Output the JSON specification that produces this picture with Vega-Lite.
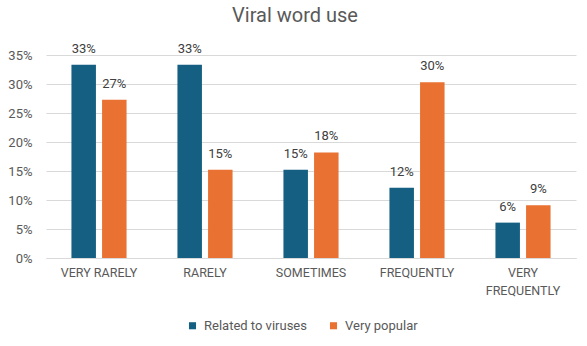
{
  "$schema": "https://vega.github.io/schema/vega-lite/v6.json",
  "width": 530,
  "height": 203,
  "autosize": {"type": "none"},
  "padding": {"left": 46, "top": 55, "right": 11, "bottom": 88},
  "background": "white",
  "title": {
    "text": "Viral word use",
    "fontSize": 20,
    "fontWeight": "normal",
    "color": "#595959",
    "font": "Roboto",
    "offset": 17,
    "dx": -16
  },
  "data": {
    "values": [
      {"freq": "VERY RARELY", "series": "Related to viruses", "value": 0.333},
      {"freq": "VERY RARELY", "series": "Very popular", "value": 0.273},
      {"freq": "RARELY", "series": "Related to viruses", "value": 0.333},
      {"freq": "RARELY", "series": "Very popular", "value": 0.152},
      {"freq": "SOMETIMES", "series": "Related to viruses", "value": 0.152},
      {"freq": "SOMETIMES", "series": "Very popular", "value": 0.182},
      {"freq": "FREQUENTLY", "series": "Related to viruses", "value": 0.121},
      {"freq": "FREQUENTLY", "series": "Very popular", "value": 0.303},
      {"freq": "VERY FREQUENTLY", "series": "Related to viruses", "value": 0.061},
      {"freq": "VERY FREQUENTLY", "series": "Very popular", "value": 0.091}
    ]
  },
  "encoding": {
    "x": {
      "field": "freq",
      "type": "nominal",
      "sort": null,
      "scale": {"paddingInner": 0.48, "paddingOuter": 0.24},
      "axis": {
        "title": null,
        "labelAngle": 0,
        "labelFontSize": 12.5,
        "labelColor": "#595959",
        "labelFont": "Roboto",
        "labelPadding": 14,
        "labelBaseline": "middle",
        "ticks": false,
        "domain": true,
        "domainColor": "#d9d9d9",
        "grid": false,
        "labelExpr": "datum.label == 'VERY FREQUENTLY' ? ['VERY', 'FREQUENTLY'] : datum.label",
        "labelLineHeight": 18
      }
    },
    "xOffset": {
      "field": "series",
      "type": "nominal",
      "scale": {"paddingInner": 0.2}
    },
    "y": {
      "field": "value",
      "type": "quantitative",
      "scale": {"domain": [0, 0.35], "nice": false},
      "axis": {
        "title": null,
        "format": ".0%",
        "values": [0, 0.05, 0.1, 0.15, 0.2, 0.25, 0.3, 0.35],
        "labelFontSize": 13,
        "labelColor": "#595959",
        "labelFont": "Roboto",
        "labelPadding": 14,
        "ticks": false,
        "domain": false,
        "gridColor": "#d9d9d9",
        "gridWidth": 1
      }
    }
  },
  "layer": [
    {
      "mark": {"type": "bar"},
      "encoding": {
        "color": {
          "field": "series",
          "type": "nominal",
          "scale": {"domain": ["Related to viruses", "Very popular"], "range": ["#156082", "#E97132"]},
          "legend": {
            "title": null,
            "orient": "none",
            "legendX": 140,
            "legendY": 264,
            "direction": "horizontal",
            "symbolType": "square",
            "symbolSize": 50,
            "symbolStrokeWidth": 0,
            "labelFontSize": 13,
            "labelColor": "#595959",
            "labelFont": "Roboto",
            "labelOffset": 5,
            "columnPadding": 20
          }
        }
      }
    },
    {
      "mark": {"type": "text", "baseline": "middle", "dy": -16, "fontSize": 13, "color": "#404040", "font": "Roboto"},
      "encoding": {
        "text": {"field": "value", "type": "quantitative", "format": ".0%"}
      }
    }
  ],
  "config": {"view": {"stroke": null}}
}
